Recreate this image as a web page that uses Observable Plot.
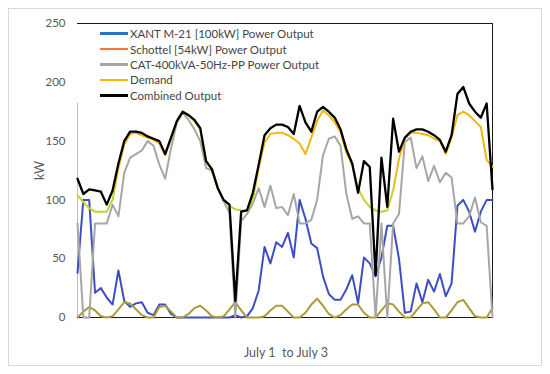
<!DOCTYPE html>
<html><head><meta charset="utf-8">
<script src="https://cdn.jsdelivr.net/npm/d3@7"></script>
<script src="https://cdn.jsdelivr.net/npm/@observablehq/plot@0.6"></script>
<style>
body{margin:0;background:#fff;}
#wrap{position:relative;width:550px;height:374px;font-family:Lato,"Open Sans",sans-serif;background:#fff;}
#border{position:absolute;left:8px;top:8px;width:534px;height:358px;border:1px solid #d9d9d9;box-sizing:border-box;pointer-events:none;}
#chart{position:absolute;left:0;top:0;}
#legend{position:absolute;left:100px;top:26px;font-size:11.5px;color:#454545;}
.item{display:flex;align-items:center;height:15.4px;white-space:nowrap;}
.swatch{width:28px;height:2.5px;margin-right:2px;}
#xlabel{position:absolute;left:0;width:572px;top:345px;text-align:center;font-size:12.5px;color:#595959;}
</style></head>
<body>
<div id="wrap"><div id="chart"></div><div id="legend"></div><div id="xlabel">July 1&nbsp; to July 3</div><div id="border"></div></div>
<script>
// hour index, July 1 00:00 to July 3 23:00
const hourIndex = d3.range(72);
const seriesNames = ["XANT M-21 [100kW] Power Output", "Schottel [54kW] Power Output", "CAT-400kVA-50Hz-PP Power Output", "Demand", "Combined Output"];
const xant = [38,100,100,21,25,17,11,40,14,9,12,13, 4,2,11,11,3,0,0,0,0,0,0,0, 0,0,0,2,0,1,8,23,60,46,64,60, 72,51,100,84,63,59,35,20,15,15,24,36, 12,51,46,35,51,78,78,50,4,5,29,13, 32,22,37,18,29,95,100,90,73,90,100,100];
const schottel = [0,5,9,6,1,0,1,7,13,12,7,2, 0,0,9,10,5,0,0,3,8,10,6,1, 0,1,7,13,6,0,0,0,1,6,10,10, 5,0,0,4,11,16,10,3,0,2,7,11, 11,4,0,0,6,12,11,5,0,0,6,12, 13,7,0,0,6,13,15,8,1,0,0,8];
const cat = [80,0,0,80,80,80,96,86,123,136,139,142, 150,146,130,118,144,166,174,168,160,150,127,125, 110,99,89,0,82,88,97,110,94,112,93,94, 87,105,80,80,83,100,138,152,154,146,105,84, 86,80,80,0,80,0,80,88,149,153,127,137, 116,129,115,123,119,80,80,86,102,81,78,0];
const demand = [104,98,93,90,90,90,100,127,147,156,157,155, 153,151,148,138,152,167,175,172,167,160,133,127, 110,100,95,92,91,91,100,127,149,156,157,157, 155,152,148,139,153,167,176,172,166,158,140,130, 110,100,94,91,90,91,108,135,152,157,157,156, 155,152,150,139,153,172,175,172,167,162,134,128];
const combined = [118,105,109,108,107,96,108,131,150,158,158,157, 154,152,150,139,153,167,175,172,168,161,133,126, 110,100,96,14,90,91,106,130,155,161,164,164, 162,156,180,166,158,175,179,175,170,160,143,131, 106,133,128,36,136,94,169,141,153,158,160,160, 158,155,151,141,155,190,196,182,175,170,182,109];
const yTicks = [0,50,100,150,200,250];
const leftAxisTop = 182;

const values = [xant, schottel, cat, demand, combined];
const lineColors = ["#3d4ec2", "#ab9b36", "#a6a6a6", "url(#demandGrad)", "#000000"];
const legendColors = ["#2b72c2", "#f07a35", "#a6a6a6", "#ffb400", "#000000"];
const widths = [2, 2, 2, 2, 2.3];

const table = seriesNames.map((name, s) => hourIndex.map(h => ({name, h, v: values[s][h]})));

const chart = Plot.plot({
  width: 550, height: 374,
  marginLeft: 77, marginRight: 58, marginTop: 23, marginBottom: 57,
  style: {background: "transparent", color: "#595959", fontFamily: "Lato, 'Open Sans', sans-serif"},
  x: {domain: [0, 71], axis: null},
  y: {domain: [0, 250]},
  marks: [
    Plot.ruleY([250], {stroke: "#1a1a1a", strokeWidth: 1}),
    Plot.ruleX([71], {stroke: "#1a1a1a", strokeWidth: 1}),
    Plot.ruleY([0], {stroke: "#1a1a1a", strokeWidth: 1}),
    Plot.ruleX([0], {y1: 0, y2: leftAxisTop, stroke: "#bfbfbf", strokeWidth: 1}),
    ...table.map((rows, s) => Plot.line(rows, {x: "h", y: "v", stroke: lineColors[s], strokeWidth: widths[s], strokeLinejoin: "round"})),
    Plot.axisY({ticks: yTicks, tickSize: 0, tickPadding: 12, fontSize: 11.5, label: "kW", labelAnchor: "center", labelArrow: "none", labelOffset: 42})
  ]
});
const defs = d3.select(chart).insert("defs", ":first-child");
const g = defs.append("linearGradient").attr("id", "demandGrad").attr("gradientUnits", "userSpaceOnUse")
  .attr("x1", 0).attr("x2", 0).attr("y1", 317).attr("y2", 23);
g.append("stop").attr("offset", 0).attr("stop-color", "#c4cf2c");
g.append("stop").attr("offset", 0.42).attr("stop-color", "#c8cf2a");
g.append("stop").attr("offset", 0.52).attr("stop-color", "#f3b60c");
g.append("stop").attr("offset", 1).attr("stop-color", "#f3b60c");
d3.select(chart).selectAll("text").filter(function(){return this.textContent === "kW";}).attr("font-size", 12.5);
document.getElementById("chart").appendChild(chart);

const legend = d3.select("#legend");
seriesNames.forEach((name, s) => {
  const it = legend.append("div").attr("class", "item");
  it.append("div").attr("class", "swatch").style("background", legendColors[s]);
  it.append("span").text(name);
});
</script>
</body></html>
